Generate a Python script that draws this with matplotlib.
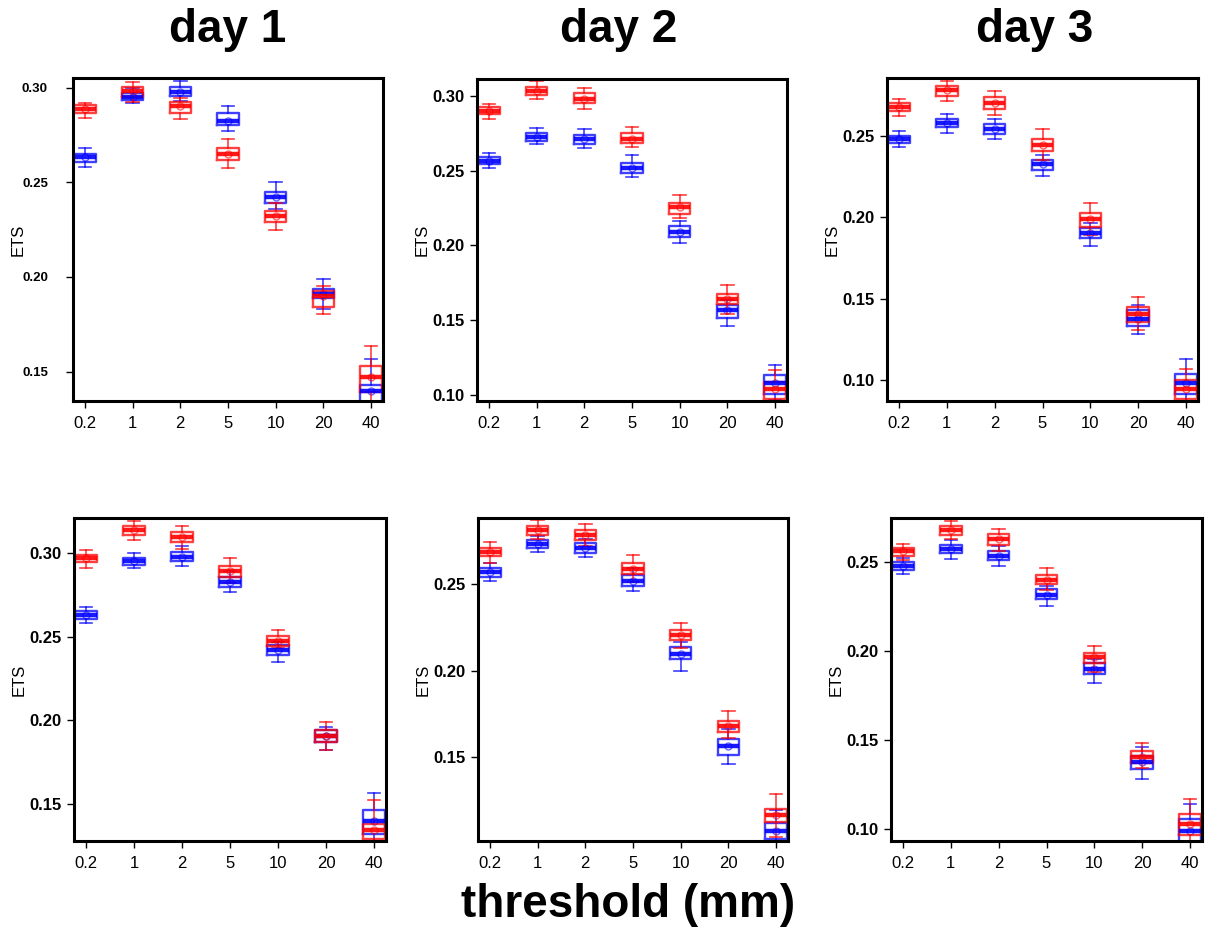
import matplotlib
matplotlib.use("Agg")
import matplotlib.pyplot as plt

plt.rcParams['font.family'] = ['Liberation Sans', 'DejaVu Sans']

thresholds = ["0.2", "1", "2", "5", "10", "20", "40"]
days = ["day 1", "day 2", "day 3"]
xlabel_text = "threshold (mm)"
ylabel_text = "ETS"

# each entry: (whisker low, q1, median, q3, whisker high)
p1_blue = [(0.2583, 0.2609, 0.2632, 0.2650, 0.2680),
           (0.2920, 0.2935, 0.2949, 0.2970, 0.3000),
           (0.2930, 0.2956, 0.2975, 0.3002, 0.3037),
           (0.2771, 0.2803, 0.2824, 0.2864, 0.2903),
           (0.2357, 0.2389, 0.2421, 0.2447, 0.2504),
           (0.1829, 0.1887, 0.1908, 0.1935, 0.1988),
           (0.1280, 0.1340, 0.1400, 0.1430, 0.1567)]
p1_red = [(0.2838, 0.2864, 0.2887, 0.2908, 0.2921),
          (0.2926, 0.2952, 0.2984, 0.3005, 0.3030),
          (0.2836, 0.2864, 0.2903, 0.2925, 0.2945),
          (0.2574, 0.2618, 0.2650, 0.2680, 0.2727),
          (0.2248, 0.2292, 0.2324, 0.2350, 0.2393),
          (0.1803, 0.1843, 0.1900, 0.1925, 0.1955),
          (0.1300, 0.1390, 0.1470, 0.1530, 0.1636)]

p2_blue = [(0.2515, 0.2542, 0.2566, 0.2593, 0.2616),
           (0.2676, 0.2700, 0.2727, 0.2754, 0.2788),
           (0.2649, 0.2678, 0.2710, 0.2739, 0.2777),
           (0.2455, 0.2486, 0.2520, 0.2549, 0.2604),
           (0.2017, 0.2057, 0.2090, 0.2131, 0.2160),
           (0.1460, 0.1516, 0.1565, 0.1599, 0.1632),
           (0.0962, 0.1007, 0.1080, 0.1129, 0.1197)]
p2_red = [(0.2844, 0.2879, 0.2902, 0.2924, 0.2946),
          (0.2978, 0.3007, 0.3036, 0.3063, 0.3103),
          (0.2913, 0.2951, 0.2980, 0.3018, 0.3056),
          (0.2656, 0.2683, 0.2714, 0.2754, 0.2794),
          (0.2180, 0.2213, 0.2254, 0.2287, 0.2336),
          (0.1543, 0.1610, 0.1639, 0.1677, 0.1733),
          (0.0930, 0.0973, 0.1040, 0.1085, 0.1163)]

p3_blue = [(0.2430, 0.2455, 0.2480, 0.2500, 0.2531),
           (0.2520, 0.2553, 0.2578, 0.2602, 0.2633),
           (0.2480, 0.2512, 0.2541, 0.2572, 0.2602),
           (0.2254, 0.2291, 0.2326, 0.2352, 0.2383),
           (0.1824, 0.1871, 0.1902, 0.1933, 0.1963),
           (0.1287, 0.1334, 0.1379, 0.1430, 0.1461),
           (0.0870, 0.0918, 0.0984, 0.1041, 0.1133)]
p3_red = [(0.2619, 0.2650, 0.2678, 0.2701, 0.2727),
          (0.2711, 0.2746, 0.2779, 0.2807, 0.2834),
          (0.2629, 0.2664, 0.2701, 0.2738, 0.2777),
          (0.2352, 0.2410, 0.2441, 0.2482, 0.2541),
          (0.1891, 0.1943, 0.1990, 0.2025, 0.2086),
          (0.1307, 0.1359, 0.1406, 0.1451, 0.1512),
          (0.0850, 0.0887, 0.0945, 0.1000, 0.1068)]

p4_blue = [(0.2581, 0.2605, 0.2631, 0.2651, 0.2677),
           (0.2910, 0.2930, 0.2950, 0.2970, 0.3000),
           (0.2924, 0.2950, 0.2976, 0.3004, 0.3044),
           (0.2765, 0.2797, 0.2824, 0.2856, 0.2890),
           (0.2348, 0.2392, 0.2418, 0.2451, 0.2471),
           (0.1823, 0.1873, 0.1909, 0.1943, 0.1963),
           (0.1260, 0.1324, 0.1400, 0.1464, 0.1568)]
p4_red = [(0.2910, 0.2944, 0.2970, 0.2990, 0.3016),
          (0.3076, 0.3110, 0.3136, 0.3160, 0.3190),
          (0.3024, 0.3064, 0.3096, 0.3126, 0.3164),
          (0.2820, 0.2856, 0.2890, 0.2920, 0.2970),
          (0.2431, 0.2445, 0.2477, 0.2505, 0.2541),
          (0.1823, 0.1873, 0.1909, 0.1943, 0.1993),
          (0.1240, 0.1290, 0.1344, 0.1384, 0.1524)]

p5_blue = [(0.2519, 0.2542, 0.2567, 0.2590, 0.2619),
           (0.2681, 0.2706, 0.2729, 0.2754, 0.2773),
           (0.2654, 0.2677, 0.2706, 0.2735, 0.2758),
           (0.2456, 0.2488, 0.2519, 0.2552, 0.2590),
           (0.1998, 0.2065, 0.2096, 0.2135, 0.2167),
           (0.1462, 0.1517, 0.1565, 0.1604, 0.1662),
           (0.1020, 0.1033, 0.1075, 0.1123, 0.1196)]
p5_red = [(0.2619, 0.2658, 0.2681, 0.2706, 0.2740),
          (0.2758, 0.2783, 0.2808, 0.2835, 0.2865),
          (0.2715, 0.2754, 0.2783, 0.2812, 0.2846),
          (0.2513, 0.2558, 0.2587, 0.2619, 0.2667),
          (0.2129, 0.2177, 0.2206, 0.2235, 0.2277),
          (0.1610, 0.1648, 0.1683, 0.1712, 0.1767),
          (0.1042, 0.1129, 0.1167, 0.1206, 0.1292)]

p6_blue = [(0.2436, 0.2459, 0.2481, 0.2500, 0.2524),
           (0.2519, 0.2553, 0.2575, 0.2600, 0.2624),
           (0.2481, 0.2511, 0.2538, 0.2562, 0.2590),
           (0.2252, 0.2293, 0.2317, 0.2349, 0.2368),
           (0.1822, 0.1871, 0.1898, 0.1932, 0.1954),
           (0.1282, 0.1333, 0.1376, 0.1408, 0.1461),
           (0.0870, 0.0925, 0.0987, 0.1056, 0.1137)]
p6_red = [(0.2515, 0.2538, 0.2562, 0.2581, 0.2605),
          (0.2632, 0.2656, 0.2681, 0.2707, 0.2732),
          (0.2562, 0.2600, 0.2632, 0.2662, 0.2688),
          (0.2346, 0.2380, 0.2402, 0.2430, 0.2468),
          (0.1885, 0.1935, 0.1965, 0.1992, 0.2026),
          (0.1344, 0.1371, 0.1405, 0.1438, 0.1484),
          (0.0900, 0.0962, 0.1028, 0.1081, 0.1166)]

panels_blue = [p1_blue, p2_blue, p3_blue, p4_blue, p5_blue, p6_blue]
panels_red = [p1_red, p2_red, p3_red, p4_red, p5_red, p6_red]
yticks = [[0.15, 0.20, 0.25, 0.30],
          [0.10, 0.15, 0.20, 0.25, 0.30],
          [0.10, 0.15, 0.20, 0.25],
          [0.15, 0.20, 0.25, 0.30],
          [0.15, 0.20, 0.25],
          [0.10, 0.15, 0.20, 0.25]]

# layout
W, H = 1211, 932
boxes_px = [(73, 78, 383, 401), (477, 79, 787, 401), (887, 78, 1198, 401),
            (74, 518, 386, 841), (478, 518, 788, 841), (891, 518, 1202, 841)]
ylims = [(0.1345, 0.3051), (0.0958, 0.3114), (0.0873, 0.2855),
         (0.1280, 0.3209), (0.1019, 0.2879), (0.0930, 0.2750)]

fig = plt.figure(figsize=(W / 100, H / 100), dpi=100)

def to_stats(rows):
    out = []
    for lo, q1, med, q3, hi in rows:
        out.append(dict(whislo=lo, q1=min(q1, med), med=med, q3=max(q3, med), whishi=hi))
    return out

positions = list(range(1, len(thresholds) + 1))
for i in range(6):
    l, t, r, b = boxes_px[i]
    ax = fig.add_axes([l / W, 1 - b / H, (r - l) / W, (b - t) / H])
    for rows, col in ((panels_blue[i], '#0000ff'), (panels_red[i], '#ff0000')):
        st = to_stats(rows)
        ax.bxp(st, positions=positions, widths=0.45, capwidths=0.26,
               showfliers=False, patch_artist=False,
               boxprops=dict(color=col, lw=1.7, alpha=0.75),
               whiskerprops=dict(color=col, lw=1.2, alpha=0.75),
               capprops=dict(color=col, lw=1.2, alpha=0.75),
               medianprops=dict(color=col, lw=3.2, alpha=0.9))
        meds = [s['med'] for s in st]
        ax.plot(positions, meds, linestyle='none', marker='o', ms=5,
                mfc='none', mec=col, mew=1.0, alpha=0.6)
    ax.set_xlim(0.75, 7.25)
    ax.set_ylim(*ylims[i])
    ax.set_xticks(positions)
    ax.set_xticklabels(thresholds, fontsize=12)
    ax.set_yticks(yticks[i])
    ysize = 9.5 if i == 0 else 12
    ypad = 13 if i == 0 else 4
    ax.set_yticklabels(["%.2f" % v for v in yticks[i]], fontsize=ysize, fontweight='bold')
    ax.tick_params(axis='y', direction='out', length=5, width=1, pad=ypad)
    ax.tick_params(axis='x', direction='out', length=5, width=1, pad=6)
    for s in ax.spines.values():
        s.set_linewidth(2.2)
    ax.set_ylabel(ylabel_text, fontsize=12)
    ax.yaxis.set_label_coords(-47 / (r - l), 0.5)

title_x = [228, 619, 1035]
for k in range(3):
    fig.text(title_x[k] / W, 1 - 30 / H, days[k], ha='center', va='center',
             fontsize=33, fontweight='bold')
fig.text(628 / W, 1 - 905 / H, xlabel_text, ha='center', va='center',
         fontsize=33, fontweight='bold')

fig.savefig("out.png", dpi=100)
